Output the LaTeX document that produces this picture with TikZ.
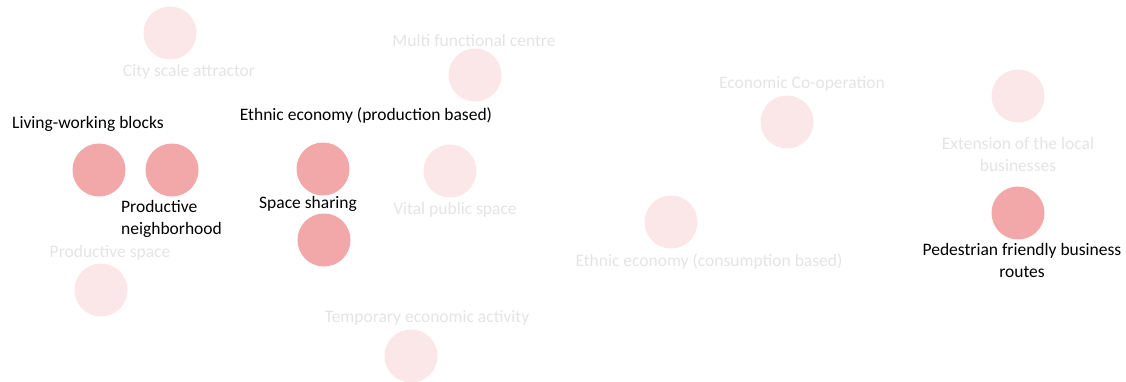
\documentclass[tikz,border=0pt]{standalone}
\usepackage{fontspec}
\setmainfont{Carlito}
\definecolor{dotstrong}{HTML}{F2A7A8}
\definecolor{dotfaint}{HTML}{FBE7E8}
\definecolor{txtfaint}{HTML}{E4E4E4}
\begin{document}
\begin{tikzpicture}[x=1pt,y=-1pt,
  strong/.style={circle,fill=dotstrong,minimum size=53pt,inner sep=0pt},
  faint/.style={circle,fill=dotfaint,minimum size=53pt,inner sep=0pt},
  lab/.style={font=\fontsize{17.5}{22}\selectfont,align=center,inner sep=0pt,text=black},
  flab/.style={lab,text=txtfaint}]
\useasboundingbox (0,0) rectangle (1126,382);
% faint circles
\node[faint] (city) at (170,33) {};
\node[faint] (multi) at (475,75) {};
\node[faint] (vital) at (450,171) {};
\node[faint] (prodspace) at (101,290) {};
\node[faint] (temp) at (411,356) {};
\node[faint] (coop) at (787,122) {};
\node[faint] (ethcons) at (671,222) {};
\node[faint] (extension) at (1018,96) {};
% strong circles
\node[strong] (living1) at (99,170) {};
\node[strong] (living2) at (172,170) {};
\node[strong] (ethprod) at (323,169) {};
\node[strong] (sharing) at (324,240) {};
\node[strong] (pedestrian) at (1018,213) {};
% faint labels
\node[flab] (citylab) at (189,72) {City scale attractor};
\node[flab] (multilab) at (474,40) {Multi functional centre};
\node[flab] (vitallab) at (455,210) {Vital public space};
\node[flab] (prodspacelab) at (110,253) {Productive space};
\node[flab] (templab) at (427,318) {Temporary economic activity};
\node[flab] (cooplab) at (802,84) {Economic Co-operation};
\node[flab] (ethconslab) at (709,262) {Ethnic economy (consumption based)};
\node[flab] (extensionlab) at (1018,154) {Extension of the local\\businesses};
% strong labels
\node[lab,anchor=west] (livinglab) at (12,124) {Living-working blocks};
\node[lab] (ethprodlab) at (366,116) {Ethnic economy (production based)};
\node[lab,anchor=west,align=left] (neighlab) at (121,219) {Productive\\neighborhood};
\node[lab] (sharinglab) at (308,204) {Space sharing};
\node[lab] (pedestrianlab) at (1022,260) {Pedestrian friendly business\\routes};
\end{tikzpicture}
\end{document}
